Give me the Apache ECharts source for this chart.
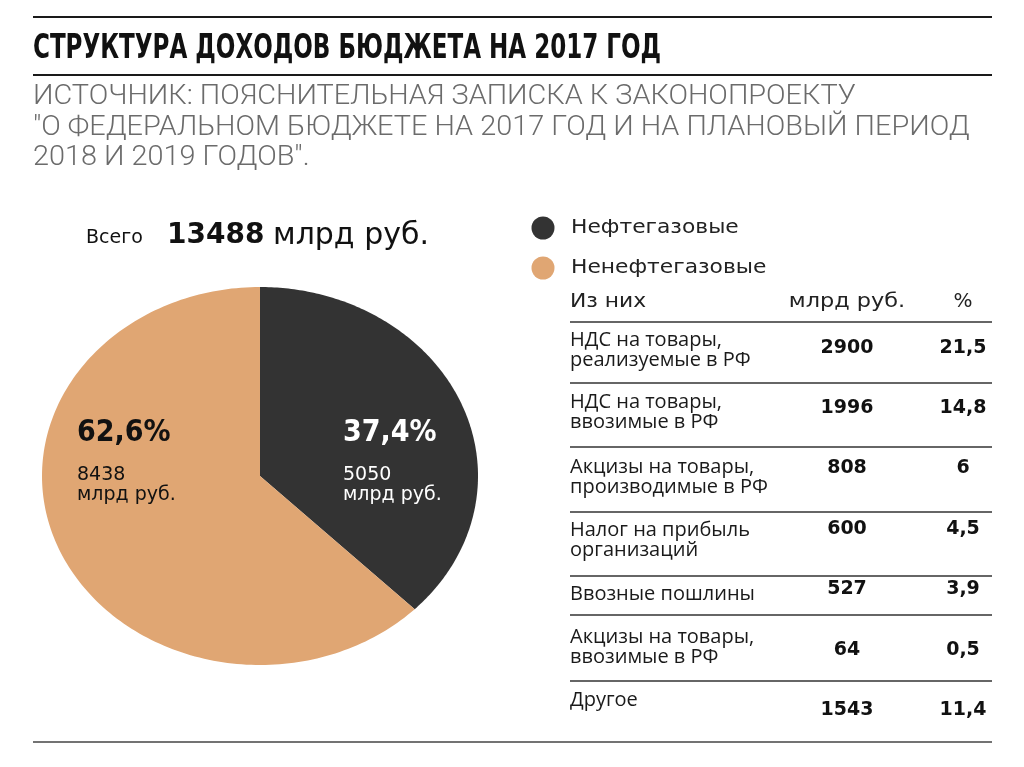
<!DOCTYPE html>
<html>
<head>
<meta charset="utf-8">
<script src="https://cdn.jsdelivr.net/npm/echarts@6/dist/echarts.min.js"></script>
<style>
  html, body { margin: 0; padding: 0; background: #fff; }
  #main { width: 1024px; height: 767px; }
</style>
</head>
<body>
<div id="main"></div>
<script>
// slices of the pie
var sliceNames = ["Нефтегазовые", "Ненефтегазовые"];
var sliceValues = [5050, 8438];

// table "Из них"
var rowLabels = [
  "НДС на товары,\nреализуемые в РФ",
  "НДС на товары,\nввозимые в РФ",
  "Акцизы на товары,\nпроизводимые в РФ",
  "Налог на прибыль\nорганизаций",
  "Ввозные пошлины",
  "Акцизы на товары,\nввозимые в РФ",
  "Другое",
];
var rowValues = [2900, 1996, 808, 600, 527, 64, 1543];
var rowPercents = ["21,5", "14,8", "6", "4,5", "3,9", "0,5", "11,4"];

var titleText = "СТРУКТУРА ДОХОДОВ БЮДЖЕТА НА 2017 ГОД";
var sourceLines = [
  "ИСТОЧНИК: ПОЯСНИТЕЛЬНАЯ ЗАПИСКА К ЗАКОНОПРОЕКТУ",
  "\"О ФЕДЕРАЛЬНОМ БЮДЖЕТЕ НА 2017 ГОД И НА ПЛАНОВЫЙ ПЕРИОД",
  "2018 И 2019 ГОДОВ\".",
];

// layout / style
var sliceColors = ["#333333", "#e0a673"];
var sliceTextColors = ["#ffffff", "#111111"];
var sliceLabelX = [343, 77];
var rowLineY = [322, 383, 447, 512, 576, 615, 681];
var rowLabelY = [350, 412, 477, 540, 594, 647, 700];
var rowValueY = [348, 408, 468, 529, 589, 650, 710];

var total = sliceValues.reduce(function (a, b) { return a + b; }, 0);

function fmtPct(v) {
  return ((v / total) * 100).toFixed(1).replace(".", ",") + "%";
}

// cumulative fractions, clockwise from 12 o'clock
var pieData = [];
var acc = 0;
sliceValues.forEach(function (v, i) {
  pieData.push([acc / total, (acc + v) / total, v, sliceNames[i]]);
  acc += v;
});

var chart = echarts.init(document.getElementById("main"));

var graphics = [];

function line(x1, y1, x2, y2, w, c) {
  graphics.push({
    type: "line",
    z: 100,
    shape: { x1: x1, y1: y1, x2: x2, y2: y2 },
    style: { stroke: c, lineWidth: w },
    silent: true,
  });
}

function text(x, y, str, size, family, weight, color, align, lh, sx) {
  graphics.push({
    type: "text",
    z: 100,
    x: x,
    y: y,
    scaleX: sx || 1,
    style: {
      text: str,
      fontSize: size,
      fontFamily: family,
      fontWeight: weight,
      fill: color,
      align: align || "left",
      verticalAlign: "middle",
      lineHeight: lh || size * 1.2,
    },
    silent: true,
  });
}

// header
line(33, 17, 992, 17, 2, "#1a1a1a");
text(33, 49, titleText, 33, "DejaVu Sans Condensed", "bold", "#111", "left", null, 0.776);
line(33, 75, 992, 75, 2, "#1a1a1a");
var srcY = [97, 128, 158];
sourceLines.forEach(function (s, i) {
  text(33, srcY[i], s, 28, "Roboto", 300, "#6b6b6b", "left", null, 1.03);
});

// total
text(86, 238, "Всего", 19, "DejaVu Sans", "normal", "#111");
text(167, 236, String(total), 28, "DejaVu Sans", "bold", "#111");
text(273, 236, "млрд руб.", 30, "DejaVu Sans", "normal", "#111");

// slice labels
sliceValues.forEach(function (v, i) {
  text(sliceLabelX[i], 433, fmtPct(v), 30, "DejaVu Sans Condensed", "bold", sliceTextColors[i]);
  text(sliceLabelX[i], 485, v + "\nмлрд руб.", 19, "DejaVu Sans", "normal", sliceTextColors[i], "left", 20);
});

// legend
var legendY = [228, 268];
sliceNames.forEach(function (n, i) {
  graphics.push({
    type: "circle",
    z: 100,
    shape: { cx: 543, cy: legendY[i], r: 11.5 },
    style: { fill: sliceColors[i] },
    silent: true,
  });
  text(571, legendY[i], n, 20, "DejaVu Sans", "normal", "#222", "left", null, 1.09);
});

// table
text(570, 302, "Из них", 20, "DejaVu Sans", "normal", "#222", "left", null, 1.09);
text(847, 302, "млрд руб.", 20, "DejaVu Sans", "normal", "#222", "center", null, 1.12);
text(963, 302, "%", 20, "DejaVu Sans", "normal", "#222", "center");
rowLineY.forEach(function (y) {
  line(570, y, 992, y, 1.5, "#333");
});
rowLabels.forEach(function (lab, i) {
  text(570, rowLabelY[i], lab, 20, "Open Sans", "normal", "#1a1a1a", "left", 20);
  text(847, rowValueY[i], String(rowValues[i]), 19, "DejaVu Sans", "bold", "#111", "center");
  text(963, rowValueY[i], rowPercents[i], 19, "DejaVu Sans", "bold", "#111", "center");
});
line(33, 742, 992, 742, 1.5, "#444");

var option = {
  backgroundColor: "#ffffff",
  animation: false,
  grid: { left: 42, top: 287, width: 436, height: 378 },
  xAxis: { type: "value", min: -1, max: 1, show: false },
  yAxis: { type: "value", min: -1, max: 1, show: false },
  series: [
    {
      type: "custom",
      name: "Доходы",
      z: 1,
      data: pieData,
      renderItem: function (params, api) {
        var a0 = api.value(0) * 2 * Math.PI;
        var a1 = api.value(1) * 2 * Math.PI;
        var pts = [api.coord([0, 0])];
        var n = 180;
        for (var k = 0; k <= n; k++) {
          var t = a0 + ((a1 - a0) * k) / n;
          pts.push(api.coord([Math.sin(t), Math.cos(t)]));
        }
        return {
          type: "polygon",
          shape: { points: pts },
          style: { fill: sliceColors[params.dataIndex] },
        };
      },
    },
  ],
  graphic: graphics,
};

chart.setOption(option);
</script>
</body>
</html>
